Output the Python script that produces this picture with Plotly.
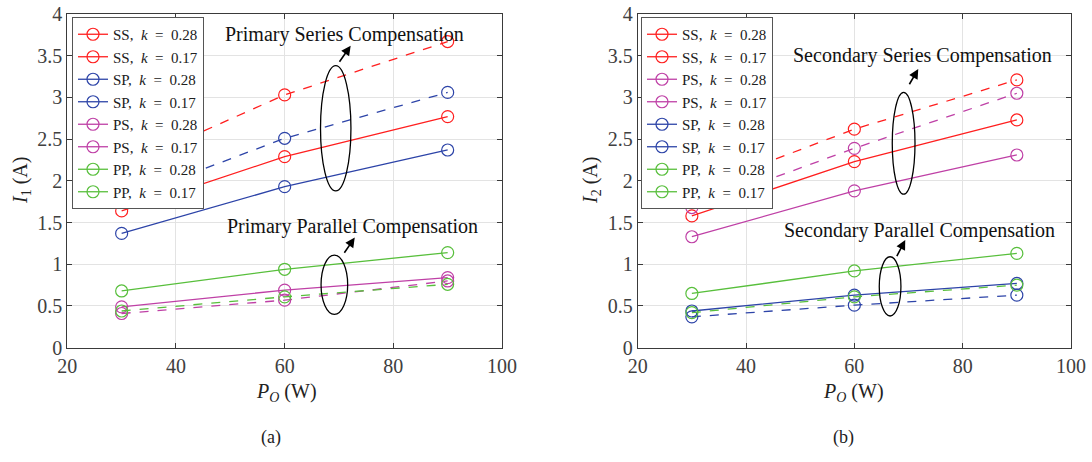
import plotly.graph_objects as go

# ---------------- data ----------------
P_O = [30, 60, 90]

# (a) primary current I1
a_SS_028 = [1.64, 2.29, 2.77]
a_SS_017 = [2.16, 3.03, 3.67]
a_SP_028 = [1.37, 1.93, 2.37]
a_SP_017 = [1.77, 2.51, 3.06]
a_PS_028 = [0.49, 0.69, 0.84]
a_PS_017 = [0.41, 0.57, 0.80]
a_PP_028 = [0.68, 0.94, 1.14]
a_PP_017 = [0.44, 0.61, 0.76]

# (b) secondary current I2
b_SS_028 = [1.58, 2.23, 2.73]
b_SS_017 = [1.88, 2.62, 3.21]
b_PS_028 = [1.33, 1.88, 2.31]
b_PS_017 = [1.68, 2.39, 3.05]
b_SP_028 = [0.44, 0.63, 0.77]
b_SP_017 = [0.37, 0.51, 0.63]
b_PP_028 = [0.65, 0.92, 1.13]
b_PP_017 = [0.42, 0.61, 0.75]

x_ticks = [20, 40, 60, 80, 100]
y_ticks = [0, 0.5, 1, 1.5, 2, 2.5, 3, 3.5, 4]
y_tick_labels = ["0", "0.5", "1", "1.5", "2", "2.5", "3", "3.5", "4"]

RED = "#FF1F1F"
BLUE = "#2D44A8"
MAG = "#BF40A6"
GRN = "#58BF3C"

SP = "\u2002"
def lbl(top, k):
    return f"{top},{SP}<i>k</i>{SP}={SP}{k}"

series_a = [
    (lbl("SS", "0.28"), a_SS_028, RED, "solid"),
    (lbl("SS", "0.17"), a_SS_017, RED, "dash"),
    (lbl("SP", "0.28"), a_SP_028, BLUE, "solid"),
    (lbl("SP", "0.17"), a_SP_017, BLUE, "dash"),
    (lbl("PS", "0.28"), a_PS_028, MAG, "solid"),
    (lbl("PS", "0.17"), a_PS_017, MAG, "dash"),
    (lbl("PP", "0.28"), a_PP_028, GRN, "solid"),
    (lbl("PP", "0.17"), a_PP_017, GRN, "dash"),
]
series_b = [
    (lbl("SS", "0.28"), b_SS_028, RED, "solid"),
    (lbl("SS", "0.17"), b_SS_017, RED, "dash"),
    (lbl("PS", "0.28"), b_PS_028, MAG, "solid"),
    (lbl("PS", "0.17"), b_PS_017, MAG, "dash"),
    (lbl("SP", "0.28"), b_SP_028, BLUE, "solid"),
    (lbl("SP", "0.17"), b_SP_017, BLUE, "dash"),
    (lbl("PP", "0.28"), b_PP_028, GRN, "solid"),
    (lbl("PP", "0.17"), b_PP_017, GRN, "dash"),
]

# annotation groups: (ellipse x0,x1,y0,y1), arrow tail, arrow tip, text pos, text
groups_a = [
    ((66.6, 72.2, 1.88, 3.38), (69.9, 3.41), (72.15, 3.62), (71.1, 3.75), "Primary Series Compensation"),
    ((66.7, 71.6, 0.40, 1.11), (70.8, 1.12), (72.9, 1.32), (72.5, 1.45), "Primary Parallel Compensation"),
]
groups_b = [
    ((67.0, 71.2, 1.84, 3.06), (70.0, 3.14), (71.8, 3.34), (72.5, 3.50), "Secondary Series Compensation"),
    ((64.6, 68.6, 0.38, 1.09), (67.7, 1.08), (69.4, 1.29), (72.0, 1.41), "Secondary Parallel Compensation"),
]

W, H = 1092, 462
FONT = "Liberation Serif"

fig = go.Figure()

def add_series(series, xa, ya, legend):
    for name, vals, col, dash in series:
        fig.add_trace(go.Scatter(
            x=P_O, y=vals, mode="lines+markers", xaxis=xa, yaxis=ya,
            line=dict(color=col, width=1.3, dash=dash),
            marker=dict(symbol="circle-open", size=12, color=col, line=dict(width=1.2, color=col)),
            showlegend=False, hoverinfo="x+y", name=name))
        fig.add_trace(go.Scatter(
            x=[None], y=[None], mode="lines+markers", xaxis=xa, yaxis=ya,
            line=dict(color=col, width=1.3),
            marker=dict(symbol="circle-open", size=12, color=col, line=dict(width=1.2, color=col)),
            name=name, legend=legend, showlegend=True))

add_series(series_a, "x", "y", "legend")
add_series(series_b, "x2", "y2", "legend2")

def px_x(p):
    return p / W

def px_y(p):
    return 1 - p / H

TICKFONT = dict(family=FONT, size=20, color="#404040")
ax_common = dict(
    range=[20, 100], tickvals=x_ticks, ticks="inside", ticklen=5, mirror="ticks",
    showline=True, linecolor="#3a3a3a", linewidth=1, tickcolor="#3a3a3a",
    showgrid=True, gridcolor="#E3E3E3", gridwidth=1, zeroline=False,
    tickfont=TICKFONT,
)
ay_common = dict(
    range=[0, 4], tickvals=y_ticks, ticktext=y_tick_labels, ticks="inside", ticklen=5,
    mirror="ticks", showline=True, linecolor="#3a3a3a", linewidth=1, tickcolor="#3a3a3a",
    showgrid=True, gridcolor="#E3E3E3", gridwidth=1, zeroline=False,
    tickfont=TICKFONT,
)

yd = [px_y(347.7), px_y(14)]
fig.update_layout(
    xaxis=dict(domain=[px_x(67.3), px_x(502)], anchor="y", **ax_common),
    yaxis=dict(domain=yd, anchor="x", **ay_common),
    xaxis2=dict(domain=[px_x(637.7), px_x(1071)], anchor="y2", **ax_common),
    yaxis2=dict(domain=yd, anchor="x2", **ay_common),
)

leg_common = dict(
    bgcolor="white", bordercolor="#555555", borderwidth=1,
    font=dict(family=FONT, size=15, color="#202020"),
    xanchor="left", yanchor="top", tracegroupgap=0, itemwidth=30,
)
fig.update_layout(
    legend=dict(x=px_x(72), y=px_y(17), **leg_common),
    legend2=dict(x=px_x(641), y=px_y(17), **leg_common),
)

shapes = []
annotations = []
for groups, xr, yr in [(groups_a, "x", "y"), (groups_b, "x2", "y2")]:
    for (ex0, ex1, ey0, ey1), tail, tip, tpos, txt in groups:
        shapes.append(dict(type="circle", xref=xr, yref=yr, x0=ex0, x1=ex1, y0=ey0, y1=ey1,
                           line=dict(color="black", width=1.3)))
        annotations.append(dict(x=tip[0], y=tip[1], ax=tail[0], ay=tail[1], xref=xr, yref=yr,
                                axref=xr, ayref=yr, showarrow=True, arrowhead=2, arrowsize=1.2,
                                arrowwidth=1.6, arrowcolor="black", text=""))
        annotations.append(dict(x=tpos[0], y=tpos[1], xref=xr, yref=yr, showarrow=False,
                                text=txt, font=dict(family=FONT, size=20, color="#111111"),
                                xanchor="center", yanchor="middle"))

# axis titles and captions
lab_font = dict(family=FONT, size=20, color="#222222")
annotations += [
    dict(x=px_x(21), y=px_y(181), xref="paper", yref="paper", showarrow=False, textangle=-90,
         text="<i>I</i><sub>1</sub> (A)", font=lab_font, xanchor="center", yanchor="middle"),
    dict(x=px_x(591), y=px_y(181), xref="paper", yref="paper", showarrow=False, textangle=-90,
         text="<i>I</i><sub>2</sub> (A)", font=lab_font, xanchor="center", yanchor="middle"),
    dict(x=px_x(286), y=px_y(392), xref="paper", yref="paper", showarrow=False,
         text="<i>P</i><sub><i>O</i></sub> (W)", font=lab_font, xanchor="center", yanchor="middle"),
    dict(x=px_x(853), y=px_y(392), xref="paper", yref="paper", showarrow=False,
         text="<i>P</i><sub><i>O</i></sub> (W)", font=lab_font, xanchor="center", yanchor="middle"),
    dict(x=px_x(271), y=px_y(437), xref="paper", yref="paper", showarrow=False,
         text="(a)", font=dict(family=FONT, size=18, color="#222222"), xanchor="center", yanchor="middle"),
    dict(x=px_x(843), y=px_y(437), xref="paper", yref="paper", showarrow=False,
         text="(b)", font=dict(family=FONT, size=18, color="#222222"), xanchor="center", yanchor="middle"),
]

fig.update_layout(
    width=W, height=H, margin=dict(l=0, r=0, t=0, b=0, autoexpand=False),
    paper_bgcolor="white", plot_bgcolor="white",
    shapes=shapes, annotations=annotations,
    font=dict(family=FONT),
)

fig.write_html("out.html", config={"displayModeBar": False},
               post_script="document.body.style.margin='0px';document.body.style.padding='0px';")
